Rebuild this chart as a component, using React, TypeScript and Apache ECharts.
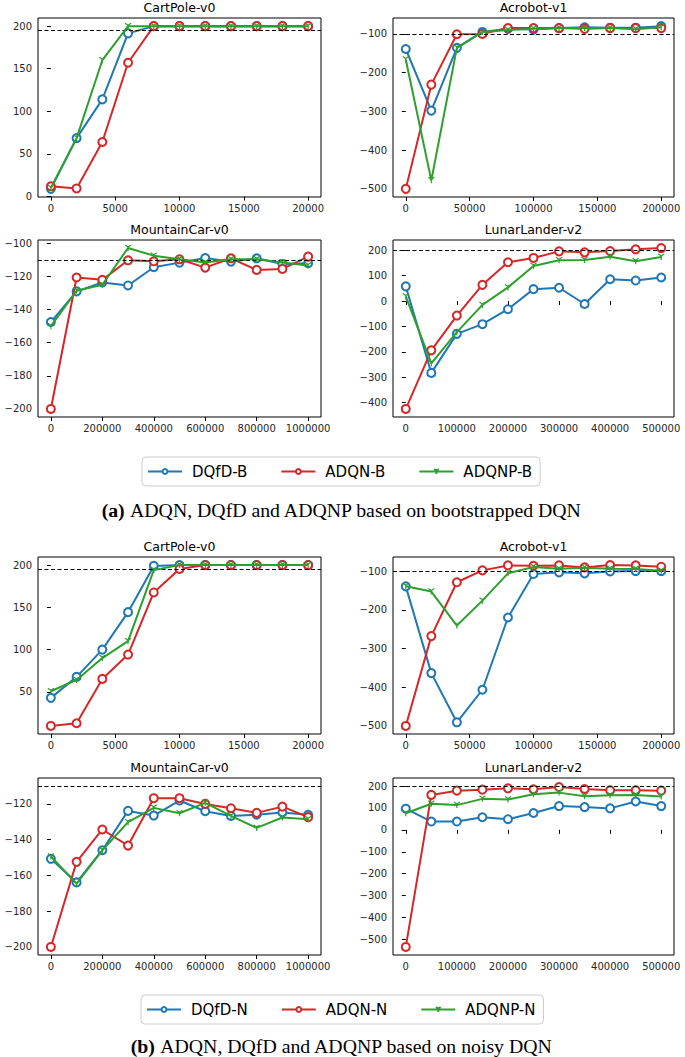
import React, { useEffect, useRef } from "react";
import * as echarts from "echarts";

// ---------- x values ----------
const CP_X = [0, 2000, 4000, 6000, 8000, 10000, 12000, 14000, 16000, 18000, 20000];
const AC_X = [0, 20000, 40000, 60000, 80000, 100000, 120000, 140000, 160000, 180000, 200000];
const MC_X = [0, 100000, 200000, 300000, 400000, 500000, 600000, 700000, 800000, 900000, 1000000];
const LL_X = [0, 50000, 100000, 150000, 200000, 250000, 300000, 350000, 400000, 450000, 500000];

// ---------- tick labels ----------
const CP_XTICKS = [0, 5000, 10000, 15000, 20000];
const AC_XTICKS = [0, 50000, 100000, 150000, 200000];
const MC_XTICKS = [0, 200000, 400000, 600000, 800000, 1000000];
const LL_XTICKS = [0, 100000, 200000, 300000, 400000, 500000];
const CP_YTICKS = [0, 50, 100, 150, 200];
const AC_YTICKS = [-500, -400, -300, -200, -100];
const MC_YTICKS_A = [-200, -180, -160, -140, -120, -100];
const MC_YTICKS_B = [-200, -180, -160, -140, -120];
const LL_YTICKS_A = [-400, -300, -200, -100, 0, 100, 200];
const LL_YTICKS_B = [-500, -400, -300, -200, -100, 0, 100, 200];

// ---------- thresholds ----------
const CP_GOAL = 195;
const AC_GOAL = -100;
const MC_GOAL = -110;
const LL_GOAL = 200;

// ---------- (a) bootstrapped DQN ----------
const CP_DQFD_B = [9, 68.6, 114, 191.5, 200, 200, 200, 200, 200, 200, 200];
const CP_ADQN_B = [12, 9.5, 64, 157, 200, 200, 200, 200, 200, 200, 200];
const CP_ADQNP_B = [10, 68.6, 160, 200, 200, 200, 200, 200, 200, 200, 200];

const AC_DQFD_B = [-139, -298, -136, -95, -87, -89, -85, -83, -84, -84, -80];
const AC_ADQN_B = [-500, -231, -101, -100, -85, -85, -85, -87, -85, -85, -85];
const AC_ADQNP_B = [-166, -478, -136, -95, -90, -87, -85, -85, -85, -88, -83];

const MC_DQFD_B = [-147.5, -129, -123.6, -125.4, -114.4, -111.6, -108.8, -111, -109, -112.4, -112];
const MC_ADQN_B = [-200, -120.6, -122, -110.2, -110.8, -109.6, -114.6, -109, -116, -115.4, -108];
const MC_ADQNP_B = [-150, -128.6, -125, -102.8, -107.4, -109.6, -111.6, -109.6, -109.6, -111.6, -113.4];

const LL_DQFD_B = [58, -283, -129, -91, -32, 47, 52.5, -11.5, 86, 81, 93];
const LL_ADQN_B = [-425, -194, -57, 64, 153, 170, 196, 192, 197, 204, 209];
const LL_ADQNP_B = [18.5, -245, -122.5, -15, 54, 138.6, 161, 162, 175, 157, 174];

// ---------- (b) noisy DQN ----------
const CP_DQFD_N = [43, 67.8, 100, 144.3, 199, 200, 200, 200, 200, 200, 200];
const CP_ADQN_N = [9.8, 13, 65.4, 94.2, 167.6, 195.3, 200, 200, 200, 200, 200];
const CP_ADQNP_N = [50.8, 64.2, 90, 110, 194, 200, 200, 200, 200, 200, 200];

const AC_DQFD_N = [-139.5, -363.5, -490.6, -406.5, -220, -107.7, -103.4, -106, -101, -100, -100];
const AC_ADQN_N = [-500, -268, -129, -98.3, -85.4, -86.3, -85.4, -90.6, -84.5, -85.4, -88.8];
const AC_ADQNP_N = [-139.5, -153, -240.8, -176.4, -106, -89.7, -94, -91.4, -94, -95, -99];

const MC_DQFD_N = [-150.7, -163.9, -145.9, -123.9, -126.5, -118.1, -124.1, -126.7, -126, -124.8, -126.1];
const MC_ADQN_N = [-200, -152.4, -134.3, -143.3, -116.8, -116.8, -120, -122.4, -125, -121.5, -127.4];
const MC_ADQNP_N = [-149.4, -164.6, -145.9, -130.2, -122.2, -125.2, -119.4, -126.7, -133.4, -127.6, -128.6];

const LL_DQFD_N = [96.6, 38, 38, 57.6, 48.6, 77, 108.6, 104, 98, 129.5, 108.6];
const LL_ADQN_N = [-534.5, 159.5, 179, 183.5, 189.5, 185, 195.5, 186.5, 180.5, 180.5, 179];
const LL_ADQNP_N = [75.6, 119, 113, 141.5, 138.5, 162.5, 170, 153.5, 158, 159.5, 152];

const METHODS = ["DQfD", "ADQN", "ADQNP"];

// ---------- layout / style ----------
const COLORS = ["#1f77b4", "#d62728", "#2ca02c"];
const COLS = [
  { left: 38, width: 283 },
  { left: 393, width: 281 },
];
const ROWS = [
  { top: 18, height: 179 },
  { top: 240, height: 177 },
  { top: 557, height: 177 },
  { top: 778, height: 177 },
];
const SANS = "DejaVu Sans";
const TRI_DOWN = "path://M5,5L5,10M5,5L0.67,2.5M5,5L9.33,2.5";

type Panel = {
  title: string;
  suffix: string;
  x: number[];
  ys: number[][];
  goal: number;
  xTicks: number[];
  yTicks: number[];
  row: number;
  col: number;
};

const PANELS: Panel[] = [
  { title: "CartPole-v0", suffix: "B", x: CP_X, ys: [CP_DQFD_B, CP_ADQN_B, CP_ADQNP_B], goal: CP_GOAL, xTicks: CP_XTICKS, yTicks: CP_YTICKS, row: 0, col: 0 },
  { title: "Acrobot-v1", suffix: "B", x: AC_X, ys: [AC_DQFD_B, AC_ADQN_B, AC_ADQNP_B], goal: AC_GOAL, xTicks: AC_XTICKS, yTicks: AC_YTICKS, row: 0, col: 1 },
  { title: "MountainCar-v0", suffix: "B", x: MC_X, ys: [MC_DQFD_B, MC_ADQN_B, MC_ADQNP_B], goal: MC_GOAL, xTicks: MC_XTICKS, yTicks: MC_YTICKS_A, row: 1, col: 0 },
  { title: "LunarLander-v2", suffix: "B", x: LL_X, ys: [LL_DQFD_B, LL_ADQN_B, LL_ADQNP_B], goal: LL_GOAL, xTicks: LL_XTICKS, yTicks: LL_YTICKS_A, row: 1, col: 1 },
  { title: "CartPole-v0", suffix: "N", x: CP_X, ys: [CP_DQFD_N, CP_ADQN_N, CP_ADQNP_N], goal: CP_GOAL, xTicks: CP_XTICKS, yTicks: CP_YTICKS, row: 2, col: 0 },
  { title: "Acrobot-v1", suffix: "N", x: AC_X, ys: [AC_DQFD_N, AC_ADQN_N, AC_ADQNP_N], goal: AC_GOAL, xTicks: AC_XTICKS, yTicks: AC_YTICKS, row: 2, col: 1 },
  { title: "MountainCar-v0", suffix: "N", x: MC_X, ys: [MC_DQFD_N, MC_ADQN_N, MC_ADQNP_N], goal: MC_GOAL, xTicks: MC_XTICKS, yTicks: MC_YTICKS_B, row: 3, col: 0 },
  { title: "LunarLander-v2", suffix: "N", x: LL_X, ys: [LL_DQFD_N, LL_ADQN_N, LL_ADQNP_N], goal: LL_GOAL, xTicks: LL_XTICKS, yTicks: LL_YTICKS_B, row: 3, col: 1 },
];

function padRange(vals: number[]): [number, number] {
  const lo = Math.min(...vals);
  const hi = Math.max(...vals);
  const m = (hi - lo) * 0.05;
  return [lo - m, hi + m];
}

const minus = (v: number) => String(v).replace("-", "\u2212");

function buildOption() {
  const grid: any[] = [];
  const xAxis: any[] = [];
  const yAxis: any[] = [];
  const series: any[] = [];
  const graphic: any[] = [];

  PANELS.forEach((p, i) => {
    const c = COLS[p.col];
    const r = ROWS[p.row];
    grid.push({
      left: c.left,
      top: r.top,
      width: c.width,
      height: r.height,
      show: true,
      borderColor: "#000",
      borderWidth: 1,
      backgroundColor: "#fff",
      containLabel: false,
    });
    const [xmin, xmax] = padRange(p.x);
    const [ymin, ymax] = padRange([...p.ys.flat(), p.goal]);
    const axisCommon = {
      axisLine: { show: false },
      splitLine: { show: false },
      axisTick: { show: true, inside: false, length: 4, lineStyle: { color: "#000", width: 1 } },
    };
    const labelCommon = {
      fontFamily: SANS,
      fontSize: 10,
      color: "#262626",
      margin: 6,
      showMinLabel: true,
      showMaxLabel: true,
    };
    xAxis.push({
      type: "value",
      gridIndex: i,
      min: xmin,
      max: xmax,
      ...axisCommon,
      axisTick: { ...axisCommon.axisTick, customValues: p.xTicks },
      axisLabel: { ...labelCommon, customValues: p.xTicks, formatter: (v: number) => String(v) },
    });
    yAxis.push({
      type: "value",
      gridIndex: i,
      min: ymin,
      max: ymax,
      ...axisCommon,
      axisTick: { ...axisCommon.axisTick, customValues: p.yTicks },
      axisLabel: { ...labelCommon, customValues: p.yTicks, formatter: (v: number) => minus(v) },
    });
    p.ys.forEach((ys, k) => {
      const isTri = k === 2;
      const s: any = {
        type: "line",
        name: METHODS[k] + "-" + p.suffix,
        xAxisIndex: i,
        yAxisIndex: i,
        data: p.x.map((x, j) => [x, ys[j]]),
        symbol: isTri ? TRI_DOWN : "emptyCircle",
        symbolSize: isTri ? 6 : 8,
        showAllSymbol: true,
        lineStyle: { color: COLORS[k], width: 2 },
        itemStyle: { color: COLORS[k], borderColor: COLORS[k], borderWidth: isTri ? 1.2 : 2 },
        emphasis: { disabled: true },
        z: 3 + k,
      };
      if (k === 2) {
        s.markLine = {
          silent: true,
          symbol: ["none", "none"],
          label: { show: false },
          lineStyle: { color: "#000", type: [4, 2.5], width: 1 },
          data: [{ yAxis: p.goal }],
          animation: false,
        };
      }
      series.push(s);
    });
    graphic.push({
      type: "text",
      x: c.left + c.width / 2,
      y: r.top - 10.5,
      style: {
        text: p.title,
        fontFamily: SANS,
        fontSize: 12.5,
        fill: "#000",
        textAlign: "center",
        textVerticalAlign: "middle",
      },
    });
  });

  const legendCommon = {
    orient: "horizontal",
    itemWidth: 34,
    itemHeight: 6,
    itemGap: 33,
    padding: [7, 8, 7, 5],
    borderColor: "#cccccc",
    borderWidth: 1,
    borderRadius: 4,
    backgroundColor: "#fff",
    selectedMode: false,
    textStyle: { fontFamily: SANS, fontSize: 15, color: "#000", padding: [0, 0, 0, 5] },
  };
  const legend = [
    { ...legendCommon, left: 142, top: 457, data: METHODS.map((m) => m + "-B") },
    { ...legendCommon, left: 141, top: 995, data: METHODS.map((m) => m + "-N") },
  ];

  const CAPTION_FONT = "Liberation Serif";
  const CAPTION_SIZE = 19.8;
  const captions = [
    { y: 510, text: "{b|(a)} ADQN, DQfD and ADQNP based on bootstrapped DQN" },
    { y: 1046, text: "{b|(b)} ADQN, DQfD and ADQNP based on noisy DQN" },
  ];
  captions.forEach((cap) => {
    graphic.push({
      type: "text",
      x: 342,
      y: cap.y,
      style: {
        text: cap.text,
        rich: { b: { fontWeight: "bold", fontFamily: CAPTION_FONT, fontSize: CAPTION_SIZE } },
        fontFamily: CAPTION_FONT,
        fontSize: CAPTION_SIZE,
        fill: "#000",
        textAlign: "center",
        textVerticalAlign: "middle",
      },
    });
  });

  return {
    animation: false,
    backgroundColor: "#fff",
    grid,
    xAxis,
    yAxis,
    series,
    legend,
    graphic,
  };
}

export default function App() {
  const ref = useRef<HTMLDivElement>(null);
  useEffect(() => {
    document.body.style.margin = "0";
    if (!ref.current) return;
    const chart = echarts.init(ref.current, null, { renderer: "svg" });
    chart.setOption(buildOption() as any);
    return () => chart.dispose();
  }, []);
  return <div ref={ref} style={{ width: 685, height: 1057 }} />;
}
